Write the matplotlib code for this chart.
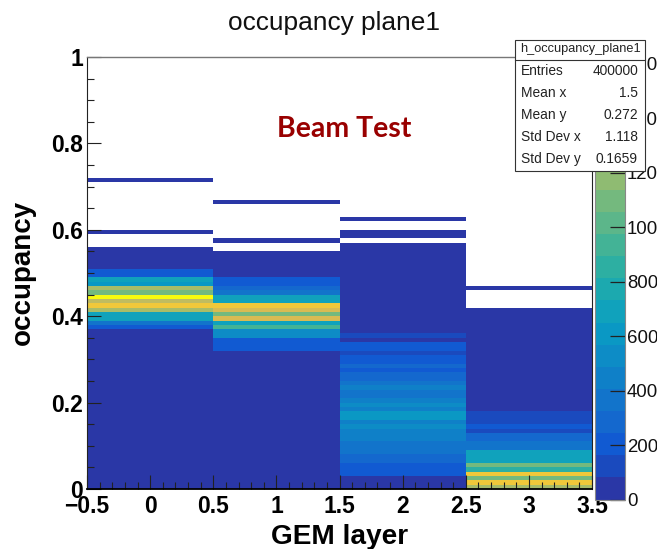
import numpy as np
import matplotlib
matplotlib.use("Agg")
import matplotlib.pyplot as plt
from matplotlib.colors import ListedColormap, BoundaryNorm
from matplotlib.patches import Rectangle
from matplotlib.transforms import Bbox
from matplotlib.ticker import MultipleLocator

W, H = 663, 549

# counts per occupancy bin (0.01 wide), bottom to top
layer0 = [30, 30, 30, 30, 30, 30, 30, 30, 30, 30, 30, 30, 30, 30, 30, 30, 30, 30, 30, 30,
          30, 30, 30, 30, 30, 30, 30, 30, 30, 30, 30, 30, 30, 30, 30, 30, 30, 200, 365, 690,
          690, 1260, 1505, 1340, 1590, 1095, 1260, 610, 690, 200, 200, 30, 30, 30, 30, 30, 0, 0, 0, 30,
          0, 0, 0, 0, 0, 0, 0, 0, 0, 0, 0, 30]
layer1 = [30, 30, 30, 30, 30, 30, 30, 30, 30, 30, 30, 30, 30, 30, 30, 30, 30, 30, 30, 30,
          30, 30, 30, 30, 30, 30, 30, 30, 30, 30, 30, 30, 200, 200, 200, 530, 530, 935, 730, 1420,
          1095, 1450, 1480, 690, 690, 330, 285, 200, 200, 30, 30, 30, 30, 30, 30, 0, 0, 30, 0, 0,
          0, 0, 0, 0, 0, 0, 30]
layer2 = [30, 30, 30, 200, 200, 200, 285, 285, 365, 365, 365, 445, 445, 445, 530, 445, 610, 610, 445, 530,
          445, 365, 365, 445, 365, 285, 285, 200, 285, 200, 200, 120, 200, 200, 30, 120, 30, 30, 30, 30,
          30, 30, 30, 30, 30, 30, 30, 30, 30, 30, 30, 30, 30, 30, 30, 30, 30, 0, 30, 30,
          0, 0, 30]
layer3 = [1260, 1505, 1095, 1505, 850, 1095, 690, 690, 690, 365, 365, 285, 285, 120, 200, 160, 160, 160, 30, 30,
          30, 30, 30, 30, 30, 30, 30, 30, 30, 30, 30, 30, 30, 30, 30, 30, 30, 30, 30, 30,
          30, 30, 0, 0, 0, 0, 30]

x_ticks = [-0.5, 0, 0.5, 1, 1.5, 2, 2.5, 3, 3.5]
x_labels = ["\u22120.5", "0", "0.5", "1", "1.5", "2", "2.5", "3", "3.5"]
y_ticks = [0, 0.2, 0.4, 0.6, 0.8, 1]
y_labels = ["0", "0.2", "0.4", "0.6", "0.8", "1"]
z_ticks = [0, 200, 400, 600, 800, 1000, 1200, 1400, 1600]

stat_names = ["Entries", "Mean x", "Mean y", "Std Dev x", "Std Dev y"]
stat_values = ["400000", "1.5", "0.272", "1.118", "0.1659"]

bird = ["#2A37A6", "#1A4ABE", "#115AD2", "#1468CE", "#1274CB", "#0F80C8", "#0D8CC6", "#0A98C4",
        "#10A2BC", "#1CA9AF", "#2DAFA2", "#43B396", "#5CB68A", "#74B97E", "#8FBB72", "#A8BC68",
        "#BFBC60", "#D9BB52", "#F0C83A", "#F9FB0E"]

plt.rcParams["font.family"] = ["Liberation Sans", "DejaVu Sans"]


def fx(px):
    return px / W


def fy(py):
    return 1 - py / H


fig = plt.figure(figsize=(W / 100, H / 100), dpi=100)
ax = fig.add_axes([fx(87), fy(489), fx(592) - fx(87), fy(57) - fy(489)])

counts = np.zeros((100, 4))
for i, col in enumerate([layer0, layer1, layer2, layer3]):
    counts[:len(col), i] = col
counts = np.ma.masked_equal(counts, 0)

levels = np.linspace(0, 1624, 21)
cmap = ListedColormap(bird)
norm = BoundaryNorm(levels, cmap.N)
mesh = ax.pcolormesh(np.linspace(-0.5, 3.5, 5), np.linspace(0, 1, 101), counts, cmap=cmap, norm=norm)

ax.set_xlim(-0.5, 3.5)
ax.set_ylim(0, 1)
ax.set_xticks(x_ticks, x_labels, fontsize=16.5, fontweight="bold")
ax.set_yticks(y_ticks, y_labels, fontsize=16.5, fontweight="bold")
ax.xaxis.set_minor_locator(MultipleLocator(0.1))
ax.yaxis.set_minor_locator(MultipleLocator(0.05))
ax.tick_params(which="major", direction="in", length=10, width=0.8, color="#222222")
ax.tick_params(which="minor", direction="in", length=5, width=0.8, color="#222222")
ax.tick_params(axis="x", which="major", pad=4.5)
ax.tick_params(axis="y", which="major", pad=3)
ax.spines["top"].set_color("#777777")
ax.spines["top"].set_linewidth(1.0)
ax.spines["left"].set_color("#222222")
ax.spines["left"].set_linewidth(0.8)
ax.spines["right"].set_color("#222222")
ax.spines["bottom"].set_color("black")
ax.spines["bottom"].set_linewidth(1.3)

fig.text(fx(339.5), fy(544), "GEM layer", fontsize=20.2, fontweight="bold", ha="center", va="baseline")
fig.text(fx(23), fy(272.5), "occupancy", fontsize=20, fontweight="bold", rotation=90, ha="center", va="center")
fig.text(fx(333.5), fy(30), "occupancy plane1", fontsize=18.9, ha="center", va="baseline", color="#111111")
fig.text(fx(344), fy(137), "Beam Test", fontsize=20.5, fontweight="bold", family=["Lato", "DejaVu Sans"],
         color="#990000", ha="center", va="baseline")

# palette axis, bottom sticks out below the frame
cax = fig.add_axes([fx(595), fy(499.5), fx(625) - fx(595), fy(57) - fy(499.5)])
cb = fig.colorbar(mesh, cax=cax, ticks=z_ticks, spacing="proportional")
cb.outline.set_edgecolor("#888888")
cb.outline.set_linewidth(0.8)
cax.minorticks_off()
cax.tick_params(direction="in", length=11, width=0.9, color="#222222", labelsize=13.4, pad=1.5, labelcolor="#111111")
cax.set_yticks(z_ticks, [str(t) for t in z_ticks])
clip = Bbox([[0, 0], [657, H]])
for lab in cax.get_yticklabels():
    lab.set_clip_box(clip)
    lab.set_clip_on(True)

# stats box
fig.add_artist(Rectangle((fx(515), fy(171)), fx(645) - fx(515), fy(39.5) - fy(171), transform=fig.transFigure,
                         facecolor="white", edgecolor="#333333", linewidth=0.8, zorder=5))
fig.add_artist(plt.Line2D([fx(515), fx(645)], [fy(59.5), fy(59.5)], color="#333333", linewidth=0.8, zorder=6))
fig.text(fx(580), fy(49), "h_occupancy_plane1", fontsize=9.2, ha="center", va="center", zorder=7, color="#222222")
row_y = [70.7, 92.7, 115, 137.3, 159.3]
for name, value, py in zip(stat_names, stat_values, row_y):
    fig.text(fx(521), fy(py), name, fontsize=9.9, ha="left", va="center", zorder=7, color="#222222")
    fig.text(fx(638), fy(py), value, fontsize=9.9, ha="right", va="center", zorder=7, color="#222222")

fig.savefig("out.png", dpi=100)
